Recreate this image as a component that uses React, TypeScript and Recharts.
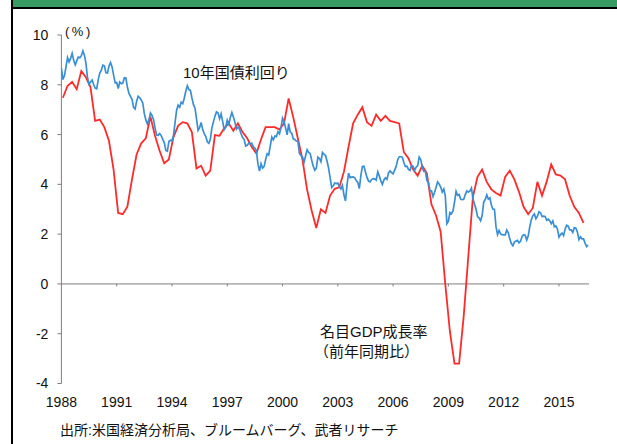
import React from 'react';
import { LineChart, Line, XAxis, YAxis, ReferenceLine } from 'recharts';

// 10-year Treasury yield, monthly, starting Jan 1988 (%)
const yieldStartYear = 1988;
const treasury10y = [
  8.67, 8.21, 8.37, 8.72, 9.09, 8.92, 9.06, 9.26, 8.98, 8.8, 8.96, 9.11,
  9.09, 9.17, 9.36, 9.18, 8.86, 8.28, 8.02, 8.11, 8.19, 8.01, 7.87, 7.84,
  8.21, 8.47, 8.59, 8.79, 8.76, 8.48, 8.47, 8.75, 8.89, 8.72, 8.39, 8.08,
  8.09, 7.85, 8.11, 8.04, 8.07, 8.28, 8.27, 7.9, 7.65, 7.53, 7.42, 7.09,
  7.03, 7.34, 7.54, 7.48, 7.39, 7.26, 6.84, 6.59, 6.42, 6.59, 6.87, 6.77,
  6.6, 6.26, 5.98, 5.97, 6.04, 5.96, 5.81, 5.68, 5.36, 5.33, 5.72, 5.77,
  5.75, 5.97, 6.48, 6.97, 7.18, 7.1, 7.3, 7.24, 7.46, 7.74, 7.96, 7.81,
  7.78, 7.47, 7.2, 7.06, 6.63, 6.17, 6.28, 6.49, 6.2, 6.04, 5.93, 5.71,
  5.65, 5.81, 6.27, 6.51, 6.74, 6.91, 6.87, 6.64, 6.83, 6.53, 6.2, 6.3,
  6.58, 6.42, 6.69, 6.89, 6.71, 6.49, 6.22, 6.3, 6.21, 6.03, 5.88, 5.81,
  5.54, 5.57, 5.65, 5.64, 5.65, 5.5, 5.46, 5.34, 4.81, 4.53, 4.83, 4.65,
  4.72, 5.0, 5.23, 5.18, 5.54, 5.9, 5.79, 5.94, 5.92, 6.11, 6.03, 6.28,
  6.66, 6.52, 6.26, 5.99, 6.44, 6.1, 6.05, 5.83, 5.8, 5.74, 5.72, 5.24,
  5.16, 5.1, 4.89, 5.14, 5.39, 5.28, 5.24, 4.97, 4.73, 4.57, 4.65, 5.09,
  5.04, 4.91, 5.28, 5.21, 5.16, 4.93, 4.65, 4.26, 3.87, 3.94, 4.05, 4.03,
  4.05, 3.9, 3.81, 3.96, 3.57, 3.33, 3.98, 4.45, 4.27, 4.29, 4.3, 4.27,
  4.15, 4.08, 3.83, 4.35, 4.72, 4.73, 4.5, 4.28, 4.13, 4.1, 4.19, 4.23,
  4.22, 4.17, 4.5, 4.34, 4.14, 4.0, 4.18, 4.26, 4.2, 4.46, 4.54, 4.47,
  4.42, 4.57, 4.72, 4.99, 5.11, 5.11, 5.09, 4.88, 4.72, 4.73, 4.6, 4.56,
  4.76, 4.72, 4.56, 4.69, 4.75, 5.1, 5.0, 4.67, 4.52, 4.53, 4.15, 4.1,
  3.74, 3.74, 3.51, 3.68, 3.88, 4.1, 4.01, 3.89, 3.69, 3.81, 3.53, 2.42,
  2.52, 2.87, 2.82, 2.93, 3.29, 3.72, 3.56, 3.59, 3.4, 3.39, 3.4, 3.59,
  3.73, 3.69, 3.73, 3.85, 3.42, 3.2, 3.01, 2.7, 2.65, 2.54, 2.76, 3.29,
  3.39, 3.58, 3.41, 3.46, 3.17, 3.0, 3.0, 2.3, 1.98, 2.15, 2.01, 1.98,
  1.97, 1.97, 2.17, 2.05, 1.8, 1.62, 1.53, 1.68, 1.72, 1.75, 1.65, 1.72,
  1.91, 1.98, 1.96, 1.76, 1.93, 2.3, 2.58, 2.74, 2.81, 2.62, 2.72, 2.9,
  2.86, 2.71, 2.72, 2.71, 2.56, 2.6, 2.54, 2.42, 2.53, 2.3, 2.33, 2.21,
  1.88, 1.98, 2.04, 1.94, 2.2, 2.36, 2.32, 2.17, 2.17, 2.07, 2.26, 2.24,
  2.09, 1.78, 1.89, 1.81, 1.81, 1.64, 1.5, 1.56,
];

// Nominal GDP growth (YoY), quarterly, starting 1988 Q1 (%)
const gdpStartYear = 1988.08;
const nominalGdpYoY = [
  7.48, 7.95, 8.12, 7.82, 8.55, 8.3, 7.9, 6.55,
  6.6, 6.3, 5.75, 4.6, 2.85, 2.8, 3.1, 4.2,
  5.2, 5.65, 5.85, 6.72, 5.95, 5.35, 4.85, 5.0,
  5.9, 6.35, 6.5, 6.45, 6.1, 4.64, 4.75, 4.35,
  4.55, 5.98, 5.95, 6.25, 6.45, 6.15, 6.45, 6.1,
  5.85, 5.5, 5.24, 5.8, 6.3, 6.3, 6.3, 6.2,
  6.45, 7.45, 6.7, 5.85, 5.0, 3.8, 2.95, 2.25,
  3.0, 2.85, 3.55, 3.82, 3.88, 4.5, 5.5, 6.45,
  6.8, 7.1, 6.5, 6.35, 6.8, 6.55, 6.75, 6.55,
  6.5, 6.45, 5.3, 5.05, 4.6, 4.35, 4.75, 4.44,
  3.2, 2.75, 2.1, 0.0, -1.9, -3.2, -3.2, -1.3,
  1.1, 3.5, 4.3, 4.6, 4.1, 3.8, 3.65, 3.55,
  4.3, 4.55, 4.2, 3.7, 3.1, 2.8, 3.05, 4.1,
  3.55, 4.1, 4.8, 4.4, 4.35, 4.2, 3.55, 3.1,
  2.85, 2.45,
];

const xTicks = [1988, 1991, 1994, 1997, 2000, 2003, 2006, 2009, 2012, 2015];
const yTicks = [-4, -2, 0, 2, 4, 6, 8, 10];
const xDomain: [number, number] = [1988, 2016.63];
const yDomain: [number, number] = [-4, 10];

const yieldLabel = '10年国債利回り';
const gdpLabel1 = '名目GDP成長率';
const gdpLabel2 = '（前年同期比）';
const unitLabel = '(%)';
const sourceLabel = '出所:米国経済分析局、ブルームバーグ、武者リサーチ';

const yieldData = treasury10y.map((v, i) => ({ x: yieldStartYear + i / 12, v }));
const gdpData = nominalGdpYoY.map((v, i) => ({ x: gdpStartYear + i * 0.25, v }));

const BLUE = '#3a8fd4';
const RED = '#ff2b2b';
const AXIS = '#7f7f7f';
const LATIN = '"Liberation Sans", Arial, "Noto Sans CJK JP", sans-serif';
const CJK = '"Liberation Sans", "Noto Sans CJK JP", sans-serif';

export default function App() {
  return (
    <div
      style={{
        position: 'absolute',
        left: 0,
        top: 0,
        width: 617,
        height: 444,
        background: '#fff',
        overflow: 'hidden',
      }}
    >
      <div style={{ position: 'absolute', left: 11, top: 0, right: 0, height: 7, background: '#389b64' }} />
      <div style={{ position: 'absolute', left: 11, top: 7, right: 0, height: 2, background: '#000' }} />
      <div style={{ position: 'absolute', left: 11, top: 0, width: 2, height: 444, background: '#000' }} />

      <div style={{ position: 'absolute', left: 0, top: 0 }}>
        <LineChart
          width={617}
          height={444}
          margin={{ top: 35, right: 28, bottom: 30.5, left: 11.4 }}
        >
          <XAxis
            type="number"
            dataKey="x"
            domain={xDomain}
            ticks={xTicks}
            allowDataOverflow
            axisLine={false}
            tickLine={false}
            tickSize={6}
            tickMargin={8}
            height={30}
            tick={{ fill: '#111', fontSize: 14, fontFamily: LATIN }}
          />
          <YAxis
            type="number"
            domain={yDomain}
            ticks={yTicks}
            width={50}
            axisLine={{ stroke: AXIS }}
            tickLine={{ stroke: AXIS }}
            tickSize={4}
            tickMargin={9}
            tick={{ fill: '#111', fontSize: 14, fontFamily: LATIN }}
          />
          <ReferenceLine y={0} stroke={AXIS} strokeWidth={1} />
          {xTicks.slice(1).map((t) => (
            <ReferenceLine
              key={t}
              segment={[
                { x: t, y: 0 },
                { x: t, y: -0.1 },
              ]}
              stroke={AXIS}
              strokeWidth={1}
            />
          ))}
          <Line
            data={gdpData}
            dataKey="v"
            type="linear"
            stroke={RED}
            strokeWidth={1.8}
            dot={false}
            isAnimationActive={false}
          />
          <Line
            data={yieldData}
            dataKey="v"
            type="linear"
            stroke={BLUE}
            strokeWidth={1.7}
            dot={false}
            isAnimationActive={false}
          />
        </LineChart>
      </div>

      <div style={{ position: 'absolute', left: 65, top: 25, fontSize: 13, lineHeight: '13px', fontFamily: LATIN, color: '#111', letterSpacing: 2.5 }}>
        {unitLabel}
      </div>
      <div style={{ position: 'absolute', left: 183, top: 65, fontSize: 15, lineHeight: '16px', fontFamily: CJK, color: '#111', whiteSpace: 'nowrap' }}>
        {yieldLabel}
      </div>
      <div style={{ position: 'absolute', left: 320, top: 324, fontSize: 15, lineHeight: '16px', fontFamily: CJK, color: '#111', whiteSpace: 'nowrap' }}>
        {gdpLabel1}
      </div>
      <div style={{ position: 'absolute', left: 314, top: 344, fontSize: 15, lineHeight: '16px', fontFamily: CJK, color: '#111', whiteSpace: 'nowrap' }}>
        {gdpLabel2}
      </div>
      <div style={{ position: 'absolute', left: 60, top: 423, fontSize: 14, lineHeight: '15px', fontFamily: CJK, color: '#111', whiteSpace: 'nowrap' }}>
        {sourceLabel}
      </div>
    </div>
  );
}
